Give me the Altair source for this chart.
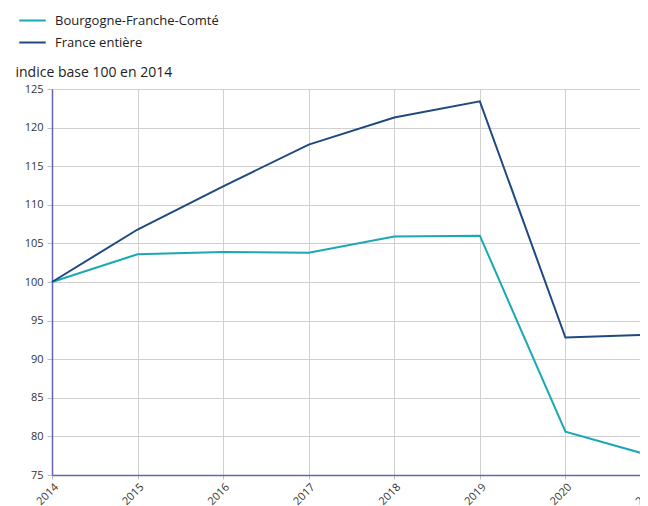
import altair as alt
import pandas as pd

years = [2014, 2015, 2016, 2017, 2018, 2019, 2020, 2021]
bfc = [100, 103.6, 103.9, 103.8, 105.9, 106.0, 80.6, 77.5]
france = [100, 106.8, 112.4, 117.8, 121.3, 123.4, 92.8, 93.2]
series_names = ["Bourgogne-Franche-Comté", "France entière"]
colors = ["#1aa8b4", "#1e4a80"]

rows = []
for y, v in zip(years, bfc):
    rows.append({"annee": y, "valeur": v, "serie": series_names[0]})
for y, v in zip(years, france):
    rows.append({"annee": y, "valeur": v, "serie": series_names[1]})
df = pd.DataFrame(rows)

font = "Open Sans"

chart = alt.Chart(df).mark_line(strokeWidth=2, clip=False).encode(
    x=alt.X("annee:Q", scale=alt.Scale(domain=[2014, 2021], nice=False, zero=False),
            axis=alt.Axis(values=years, format="d", labelAngle=-45, title=None,
                          labelFontSize=11, labelColor="#333333", grid=True,
                          gridColor="#d0d0d0", domainColor="#6464b4", domainWidth=1.5,
                          tickColor="#bbbbbb", tickSize=4, labelPadding=2)),
    y=alt.Y("valeur:Q", scale=alt.Scale(domain=[75, 125], nice=False, zero=False),
            axis=alt.Axis(values=list(range(75, 126, 5)), title="indice base 100 en 2014",
                          titleAngle=0, titleAlign="left", titleBaseline="alphabetic",
                          titleX=-37, titleY=-13, titleFontSize=14, titleFontWeight="normal",
                          titleColor="#222222", labelFontSize=11, labelColor="#333333",
                          grid=True, gridColor="#d0d0d0", domainColor="#6464b4",
                          domainWidth=1.5, tickColor="#bbbbbb", tickSize=5, labelPadding=4)),
    color=alt.Color("serie:N", scale=alt.Scale(domain=series_names, range=colors),
                    legend=alt.Legend(title=None, orient="none", legendX=-34, legendY=-83,
                                      symbolType="stroke", symbolSize=700, symbolStrokeWidth=2,
                                      labelFontSize=13, labelColor="#222222", rowPadding=-5,
                                      labelOffset=8, labelLimit=0)),
).properties(
    width=599, height=386,
    autosize=alt.AutoSizeParams(type="none"),
    padding={"left": 44, "top": 81, "right": -11, "bottom": 40},
).configure(font=font).configure_view(stroke=None)

chart.save("out.html", embed_options={"renderer": "svg", "actions": False})
